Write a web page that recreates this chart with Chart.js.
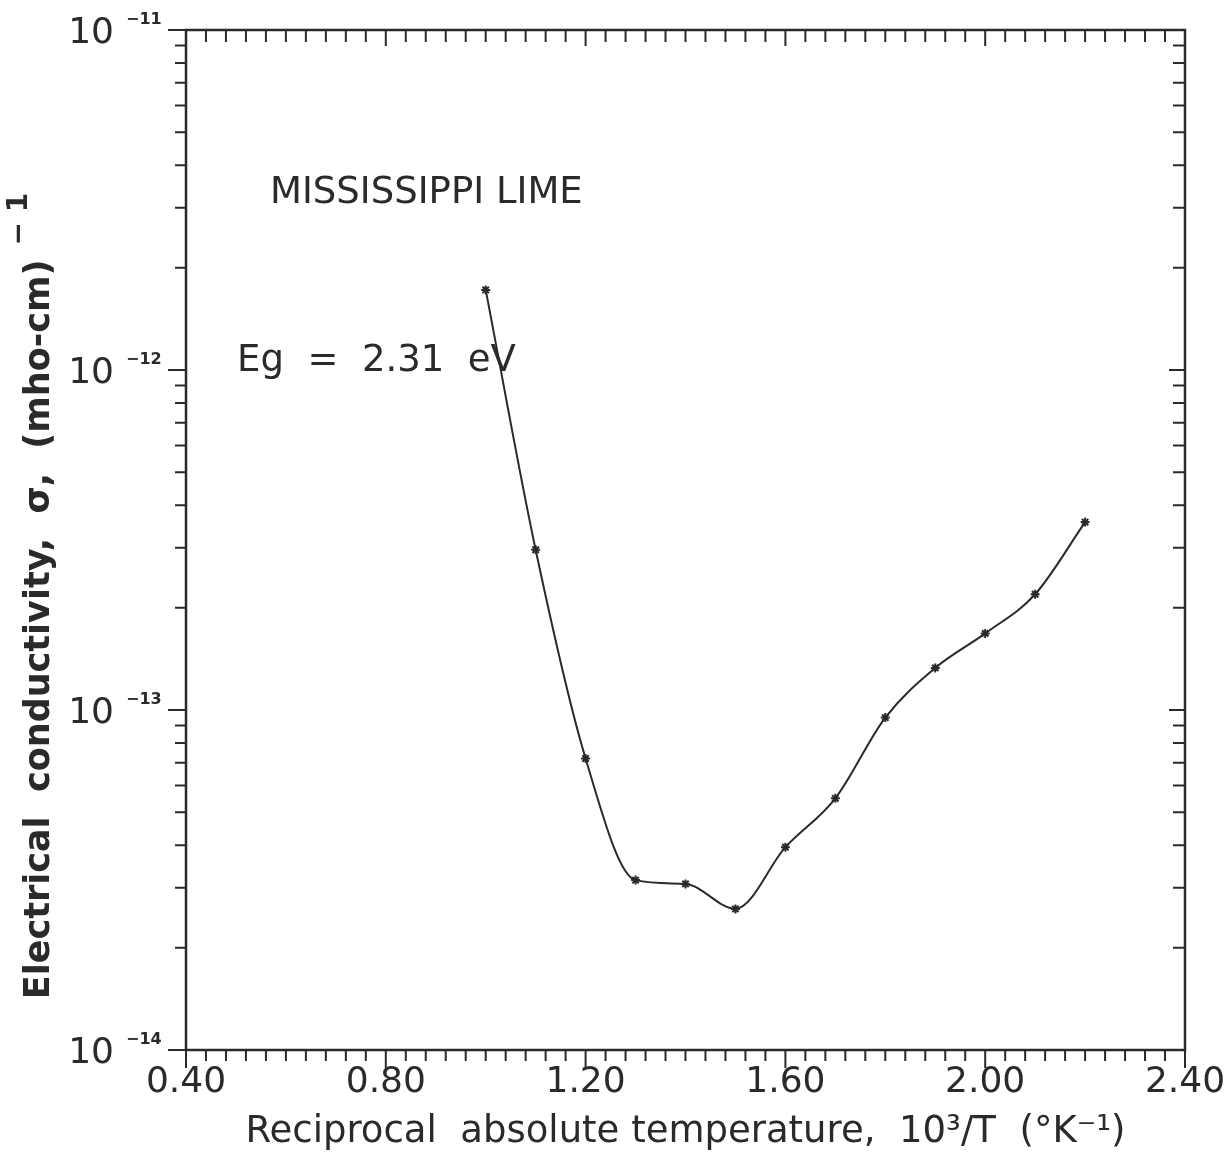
<!DOCTYPE html>
<html>
<head>
<meta charset="utf-8">
<title>Mississippi Lime - electrical conductivity</title>
<script src="https://cdn.jsdelivr.net/npm/chart.js@4.4.1/dist/chart.umd.min.js"></script>
<style>
  html, body { margin: 0; padding: 0; background: #fff; }
  #wrap { width: 1230px; height: 1160px; }
</style>
</head>
<body>
<div id="wrap"><canvas id="chart" width="1230" height="1160"></canvas></div>
<script>
// reciprocal absolute temperature, 10^3/T
const recipTemp = [1.0, 1.1, 1.2, 1.3, 1.4, 1.5, 1.6, 1.7, 1.8, 1.9, 2.0, 2.1, 2.2];
// electrical conductivity, (mho-cm)^-1
const conductivity = [1.72e-12, 2.96e-13, 7.2e-14, 3.16e-14, 3.08e-14, 2.6e-14, 3.95e-14, 5.5e-14, 9.5e-14, 1.33e-13, 1.68e-13, 2.19e-13, 3.57e-13];

const xTickLabels = ["0.40", "0.80", "1.20", "1.60", "2.00", "2.40"];
const yDecades = [-14, -13, -12, -11];
const sampleName = "MISSISSIPPI LIME";
const gapLabel = "Eg  =  2.31  eV";
const xTitle = "Reciprocal  absolute temperature,  10\u00B3/T  (\u00B0K\u207B\u00B9)";
const yTitle = "Electrical  conductivity,  \u03C3,  (mho-cm)";

const ink = "#2a2a2a";
const font = "DejaVu Sans";

// frame, tick marks, y labels and notes drawn on the library's scales
const framePlugin = {
  id: "frame",
  afterDraw(chart) {
    const ctx = chart.ctx;
    const x = chart.scales.x, y = chart.scales.y;
    const { left, right, top, bottom } = chart.chartArea;
    ctx.save();
    ctx.strokeStyle = ink;
    ctx.fillStyle = ink;
    ctx.lineWidth = 2.5;
    ctx.strokeRect(left, top, right - left, bottom - top);

    ctx.lineWidth = 2;
    ctx.beginPath();
    for (let i = 0; i <= 50; i++) {
      const px = x.getPixelForValue(0.4 + i * 0.04);
      const major = i % 10 === 0;
      ctx.moveTo(px, bottom);
      ctx.lineTo(px, bottom + (major ? 18 : 11));
      ctx.moveTo(px, top);
      ctx.lineTo(px, top + (major ? 16 : 12));
    }
    yDecades.forEach((e, k) => {
      const last = k === yDecades.length - 1;
      for (let m = 1; m <= (last ? 1 : 9); m++) {
        const py = y.getPixelForValue(m * Math.pow(10, e));
        const major = m === 1;
        ctx.moveTo(left - (major ? 18 : 11), py);
        ctx.lineTo(left, py);
        ctx.moveTo(right - (major ? 16 : 12), py);
        ctx.lineTo(right, py);
      }
    });
    ctx.stroke();

    // y tick labels 10^n
    yDecades.forEach(e => {
      const py = y.getPixelForValue(Math.pow(10, e));
      ctx.font = "36px '" + font + "'";
      ctx.textAlign = "right";
      ctx.textBaseline = "middle";
      ctx.fillText("10", left - 72, py + 4);
      ctx.font = "bold 16px '" + font + "'";
      ctx.textAlign = "left";
      ctx.fillText("\u2212" + Math.abs(e), left - 60, py - 10);
    });

    // y axis title, rotated
    ctx.save();
    ctx.translate(40, 596);
    ctx.rotate(-Math.PI / 2);
    ctx.font = "bold 35px '" + font + "'";
    const w1 = ctx.measureText(yTitle).width;
    ctx.font = "bold 28px '" + font + "'";
    const w2 = ctx.measureText("\u2212 1").width;
    const start = -(w1 + 14 + w2) / 2;
    ctx.textAlign = "left";
    ctx.textBaseline = "middle";
    ctx.font = "bold 35px '" + font + "'";
    ctx.fillText(yTitle, start, 0);
    ctx.font = "bold 28px '" + font + "'";
    ctx.fillText("\u2212 1", start + w1 + 14, -20);
    ctx.restore();

    // notes inside the plot
    ctx.font = "37px '" + font + "'";
    ctx.textAlign = "left";
    ctx.textBaseline = "alphabetic";
    ctx.fillText(sampleName, 270, 203);
    ctx.fillText(gapLabel, 237, 371);
    ctx.restore();
  }
};

new Chart(document.getElementById("chart"), {
  type: "line",
  data: {
    datasets: [{
      data: recipTemp.map((t, i) => ({ x: t, y: conductivity[i] })),
      borderColor: ink,
      borderWidth: 2,
      cubicInterpolationMode: "monotone",
      fill: false,
      pointStyle: "star",
      pointRadius: 4.5,
      pointBorderWidth: 2,
      pointBorderColor: ink,
      pointBackgroundColor: ink
    }]
  },
  options: {
    responsive: false,
    animation: false,
    layout: { padding: { top: 30, right: 45, left: 0, bottom: 0 } },
    plugins: { legend: { display: false }, tooltip: { enabled: false } },
    scales: {
      x: {
        type: "linear",
        min: 0.4,
        max: 2.4,
        grid: { display: false, drawTicks: false },
        border: { display: false },
        ticks: {
          stepSize: 0.4,
          maxRotation: 0,
          autoSkip: false,
          padding: 11,
          color: ink,
          font: { family: font, size: 36 },
          callback: (v, i) => xTickLabels[i]
        },
        title: {
          display: true,
          text: xTitle,
          color: ink,
          font: { family: font, size: 37 },
          padding: { top: 0, bottom: 5 }
        },
        afterFit: (s) => { s.height = 110; s.paddingLeft = 0; s.paddingRight = 0; }
      },
      y: {
        type: "logarithmic",
        min: 1e-14,
        max: 1e-11,
        grid: { display: false, drawTicks: false },
        border: { display: false },
        ticks: { display: false },
        afterFit: (s) => { s.width = 186; }
      }
    }
  },
  plugins: [framePlugin]
});
</script>
</body>
</html>
